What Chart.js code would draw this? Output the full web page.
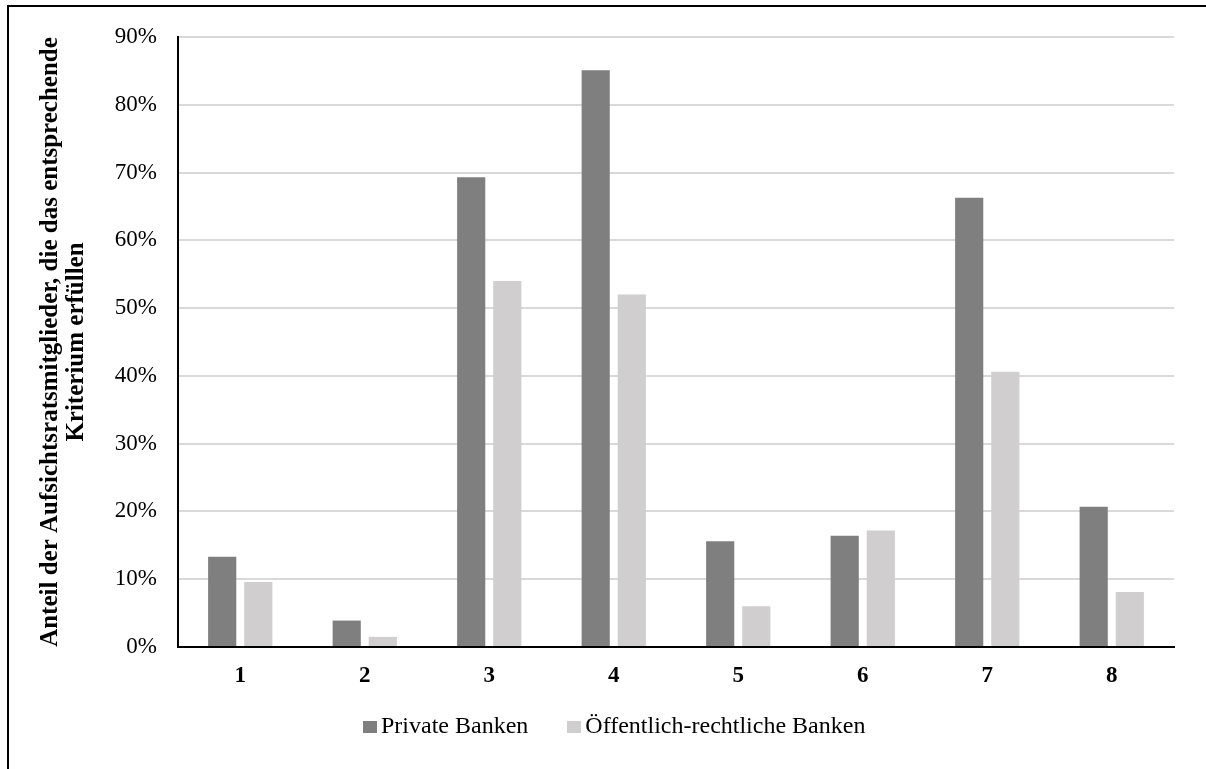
<!DOCTYPE html>
<html>
<head>
<meta charset="utf-8">
<script src="https://cdn.jsdelivr.net/npm/chart.js@4.4.1/dist/chart.umd.min.js"></script>
<style>
  html, body { margin: 0; padding: 0; background: #fff; overflow: hidden; }
  #wrap { position: relative; width: 1206px; height: 769px; }
  #frame { position: absolute; left: 7px; top: 5px; width: 1210px; height: 800px;
           border-left: 2.5px solid #000; border-top: 2px solid #000; }
  #chart1 { position: absolute; left: 0; top: 0; }
  #legend { position: absolute; left: 363px; top: 713px; font-family: "Liberation Serif", serif;
            font-size: 24px; line-height: 24px; color: #000; white-space: nowrap; }
  #legend span.item { display: inline-block; margin-right: 39px; }
  #legend span.box { display: inline-block; width: 14px; height: 12px; margin-right: 4px; }
</style>
</head>
<body>
<div id="wrap">
  <div id="frame"></div>
  <canvas id="chart1" width="1206" height="769"></canvas>
  <div id="legend"></div>
</div>
<script>
const kriterien = ['1', '2', '3', '4', '5', '6', '7', '8'];
const privateBanken = [13.3, 3.9, 69.3, 85.1, 15.6, 16.4, 66.3, 20.7];
const oeffentlicheBanken = [9.6, 1.5, 54.0, 52.0, 6.0, 17.2, 40.6, 8.1];
const yTicks = [0, 10, 20, 30, 40, 50, 60, 70, 80, 90];

const serif = '"Liberation Serif", "Times New Roman", serif';
const cht1 = document.getElementById('chart1');

const chart = new Chart(cht1, {
    type: 'bar',
    data: {
        labels: kriterien,
        datasets: [{
            label: 'Private Banken',
            data: privateBanken,
            backgroundColor: '#7f7f7f',
            borderWidth: 0,
        }, {
            label: 'Öffentlich-rechtliche Banken',
            data: oeffentlicheBanken,
            backgroundColor: '#d0cece',
            borderWidth: 0,
        }]
    },
    options: {
        responsive: false,
        animation: false,
        devicePixelRatio: 1,
        categoryPercentage: 0.58,
        barPercentage: 0.78,
        layout: {
            padding: { top: 37, right: 32, left: 0, bottom: 82 }
        },
        plugins: {
            legend: { display: false },
            tooltip: { enabled: false }
        },
        scales: {
            x: {
                grid: { display: false, drawTicks: false },
                border: { display: true, color: '#000', width: 2 },
                ticks: {
                    color: '#000',
                    padding: 15,
                    font: { family: serif, size: 23, weight: 'bold' }
                },
                afterFit: (scale) => { scale.height = 40; }
            },
            y: {
                min: 0,
                max: 90,
                afterBuildTicks: (scale) => {
                    scale.ticks = yTicks.map(v => ({ value: v }));
                },
                grid: { color: '#d9d9d9', lineWidth: 2, drawTicks: false },
                border: { display: true, color: '#000', width: 2 },
                ticks: {
                    color: '#000',
                    padding: 21,
                    font: { family: serif, size: 23 },
                    callback: (v) => v + '%'
                },
                title: {
                    display: true,
                    text: ['Anteil der Aufsichtsratsmitglieder, die das entsprechende', 'Kriterium erfüllen'],
                    color: '#000',
                    padding: { top: 37, bottom: 0 },
                    font: { family: serif, size: 25, weight: 'bold', lineHeight: 1.05 }
                },
                afterFit: (scale) => { scale.width = 178; }
            }
        }
    }
});

// Legende aus den Datensätzen
const legend = document.getElementById('legend');
chart.data.datasets.forEach(ds => {
    const item = document.createElement('span');
    item.className = 'item';
    const box = document.createElement('span');
    box.className = 'box';
    box.style.background = ds.backgroundColor;
    item.appendChild(box);
    item.appendChild(document.createTextNode(ds.label));
    legend.appendChild(item);
});
</script>
</body>
</html>
